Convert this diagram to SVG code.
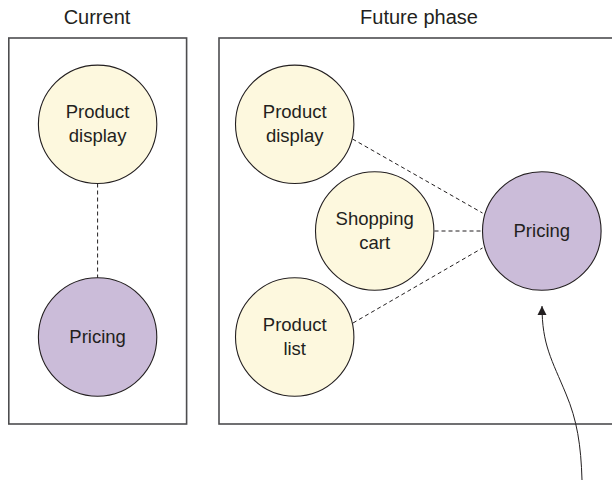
<svg xmlns="http://www.w3.org/2000/svg" width="612" height="480" viewBox="0 0 612 480">
<style>
.frame{fill:none;stroke:#4d4d4f;stroke-width:1.6}
.title{font-family:"Liberation Sans",Arial,sans-serif;font-size:20px;fill:#231f20;text-anchor:middle}
.lbl{font-family:"Liberation Sans",Arial,sans-serif;font-size:18.5px;fill:#231f20;text-anchor:middle}
.yel{fill:#fdf8de;stroke:#231f20;stroke-width:1.1}
.pur{fill:#cbbcd9;stroke:#231f20;stroke-width:1.1}
.dash{fill:none;stroke:#231f20;stroke-width:1;stroke-dasharray:4 3}
</style>
<defs>
<marker id="ah" markerWidth="10" markerHeight="10" refX="9" refY="5" orient="auto" markerUnits="userSpaceOnUse">
<path d="M0,0.5 L9,5 L0,9.5 Z" fill="#231f20"/>
</marker>
</defs>
<rect width="612" height="480" fill="#ffffff"/>
<g id="frames">
<rect class="frame" x="8.8" y="38" width="177.8" height="386"/>
<rect class="frame" x="219" y="38" width="420" height="386"/>
<text class="title" x="97" y="24">Current</text>
<text class="title" x="419" y="24">Future phase</text>
</g>
<g id="connectors">
<line class="dash" x1="97.6" y1="183.5" x2="97.6" y2="278"/>
<line class="dash" x1="352.5" y1="139" x2="482.5" y2="213"/>
<line class="dash" x1="434.5" y1="231" x2="481" y2="231"/>
<line class="dash" x1="353" y1="323" x2="482.5" y2="248"/>
<path d="M582,480 C581,445 577,420 566,394 C552,360 542,345 542,306" fill="none" stroke="#231f20" stroke-width="1" marker-end="url(#ah)"/>
</g>
<g id="cur-product-display">
<circle class="yel" cx="97.6" cy="124.3" r="59.2"/>
<text class="lbl" x="97.6" y="118.3">Product</text>
<text class="lbl" x="97.6" y="141.8">display</text>
</g>
<g id="cur-pricing">
<circle class="pur" cx="97.6" cy="337" r="59.2"/>
<text class="lbl" x="97.6" y="343">Pricing</text>
</g>
<g id="fut-product-display">
<circle class="yel" cx="294.7" cy="124.3" r="59.2"/>
<text class="lbl" x="294.7" y="118.3">Product</text>
<text class="lbl" x="294.7" y="141.8">display</text>
</g>
<g id="fut-shopping-cart">
<circle class="yel" cx="374.7" cy="231" r="59.2"/>
<text class="lbl" x="374.7" y="225">Shopping</text>
<text class="lbl" x="374.7" y="248.5">cart</text>
</g>
<g id="fut-product-list">
<circle class="yel" cx="294.7" cy="337" r="59.2"/>
<text class="lbl" x="294.7" y="331">Product</text>
<text class="lbl" x="294.7" y="354.5">list</text>
</g>
<g id="fut-pricing">
<circle class="pur" cx="541.8" cy="231" r="59.3"/>
<text class="lbl" x="541.8" y="237">Pricing</text>
</g>
</svg>
